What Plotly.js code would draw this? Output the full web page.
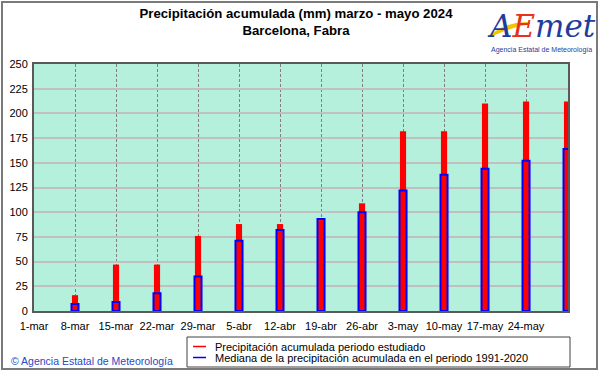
<!DOCTYPE html>
<html>
<head>
<meta charset="utf-8">
<script src="https://cdn.plot.ly/plotly-3.0.1.min.js"></script>
<style>html,body{margin:0;padding:0;background:#fff;}#chart{width:601px;height:374px;}</style>
</head>
<body>
<div id="chart"></div>
<script>
// ---- data ----
const dates = ['2024-03-08','2024-03-15','2024-03-22','2024-03-29','2024-04-05','2024-04-12','2024-04-19','2024-04-26','2024-05-03','2024-05-10','2024-05-17','2024-05-24','2024-05-31'];
const precipitacion = [16, 47, 47, 76, 88, 88, 92, 109, 182, 182, 210, 212, 212];
const mediana = [7, 9, 18, 35, 71, 82, 93, 100, 122, 138, 144, 152, 164];
const tickDates = ['2024-03-01','2024-03-08','2024-03-15','2024-03-22','2024-03-29','2024-04-05','2024-04-12','2024-04-19','2024-04-26','2024-05-03','2024-05-10','2024-05-17','2024-05-24'];
const tickLabels = ['1-mar','8-mar','15-mar','22-mar','29-mar','5-abr','12-abr','19-abr','26-abr','3-may','10-may','17-may','24-may'];
const seriesNames = ['Precipitación acumulada periodo estudiado', 'Mediana de la precipitación acumulada en el periodo 1991-2020'];
const titleText = 'Precipitación acumulada (mm) marzo - mayo 2024<br>Barcelona, Fabra';

// ---- layout helpers (pixel -> paper) ----
const L = 34, R = 568, T = 64, B = 311;
const px = x => (x - L) / (R - L);
const py = y => (B - y) / (B - T);
const DAY = 86400000;
const FONT = 'Liberation Sans, Arial, sans-serif';

const traces = [
  {type: 'bar', x: dates, y: precipitacion, width: DAY * 1.05,
   marker: {color: '#ff0000', line: {width: 0}}, showlegend: false, hoverinfo: 'x+y'},
  {type: 'bar', x: dates, y: mediana, width: DAY * 1.2,
   marker: {color: 'rgba(0,0,0,0)', line: {color: '#0000ff', width: 2}}, showlegend: false, hoverinfo: 'x+y'}
];

const shapes = [
  // outer frame
  {type: 'rect', xref: 'paper', yref: 'paper', x0: px(2), x1: px(597), y0: py(2), y1: py(369),
   line: {color: '#7a7a7a', width: 2}, layer: 'above'},
  // legend box
  {type: 'rect', xref: 'paper', yref: 'paper', x0: px(187), x1: px(570), y0: py(337), y1: py(367),
   line: {color: '#404040', width: 1}, fillcolor: '#ffffff'},
  {type: 'line', xref: 'paper', yref: 'paper', x0: px(193), x1: px(206), y0: py(346.5), y1: py(346.5),
   line: {color: '#ff0000', width: 1.5}},
  {type: 'line', xref: 'paper', yref: 'paper', x0: px(193), x1: px(206), y0: py(357.5), y1: py(357.5),
   line: {color: '#0000ff', width: 1.5}},
  // logo swoosh
  {type: 'path', xref: 'paper', yref: 'paper', layer: 'above',
   path: 'M ' + px(492) + ',' + py(35) + ' Q ' + px(508) + ',' + py(22) + ' ' + px(530) + ',' + py(23) +
         ' Q ' + px(510) + ',' + py(27) + ' ' + px(492) + ',' + py(35) + ' Z',
   fillcolor: '#f5c400', line: {color: '#f5c400', width: 2}}
];

const annotations = [
  {xref: 'paper', yref: 'paper', x: px(213), y: py(346.5), xanchor: 'left', yanchor: 'middle', showarrow: false,
   text: seriesNames[0], font: {family: FONT, size: 11, color: '#000'}},
  {xref: 'paper', yref: 'paper', x: px(213), y: py(357.5), xanchor: 'left', yanchor: 'middle', showarrow: false,
   text: seriesNames[1], font: {family: FONT, size: 11, color: '#000'}},
  {xref: 'paper', yref: 'paper', x: px(9), y: py(361), xanchor: 'left', yanchor: 'middle', showarrow: false,
   text: '© Agencia Estatal de Meteorología', font: {family: FONT, size: 10.5, color: '#2a48c0'}},
  // logo
  {xref: 'paper', yref: 'paper', x: px(541), y: py(26), xanchor: 'center', yanchor: 'middle', showarrow: false,
   text: '<span style="color:#1f3c9e">A</span><span style="color:#e8321e">E</span><span style="color:#1f3c9e">met</span>',
   font: {family: 'DejaVu Serif, serif', size: 31, color: '#1f3c9e', style: 'italic'}},
  {xref: 'paper', yref: 'paper', x: px(541), y: py(50), xanchor: 'center', yanchor: 'middle', showarrow: false,
   text: 'Agencia Estatal de Meteorología', font: {family: FONT, size: 7, color: '#1f3c9e'}}
];

const layout = {
  width: 601, height: 374,
  margin: {l: L, r: 601 - R, t: T, b: 374 - B, pad: 0},
  paper_bgcolor: '#ffffff',
  plot_bgcolor: '#b4f0dc',
  barmode: 'overlay',
  showlegend: false,
  font: {family: FONT, size: 11, color: '#000'},
  title: {text: titleText, x: 296 / 601, xref: 'container', xanchor: 'center',
          y: 1 - 18 / 374, yref: 'container', yanchor: 'top',
          font: {family: FONT, size: 13.2, color: '#000', weight: 'bold'}},
  xaxis: {type: 'date', range: ['2024-03-01', '2024-05-31 04:00'],
          tickmode: 'array', tickvals: tickDates, ticktext: tickLabels,
          showgrid: true, gridcolor: '#808080', griddash: '3px,2px', gridwidth: 1,
          showline: true, linecolor: '#5a5a5a', linewidth: 2, mirror: true,
          ticks: 'outside', ticklen: 4, tickcolor: 'rgba(0,0,0,0)',
          tickfont: {family: FONT, size: 11, color: '#000'}, fixedrange: true},
  yaxis: {range: [0, 250], dtick: 25, tick0: 0,
          showgrid: true, gridcolor: '#c0c0c0', gridwidth: 2, zeroline: false,
          showline: true, linecolor: '#5a5a5a', linewidth: 2, mirror: true,
          ticks: 'outside', ticklen: 2, tickcolor: 'rgba(0,0,0,0)',
          tickfont: {family: FONT, size: 11, color: '#000'}, fixedrange: true},
  shapes: shapes,
  annotations: annotations
};

Plotly.newPlot('chart', traces, layout, {displayModeBar: false, staticPlot: true});
</script>
</body>
</html>
